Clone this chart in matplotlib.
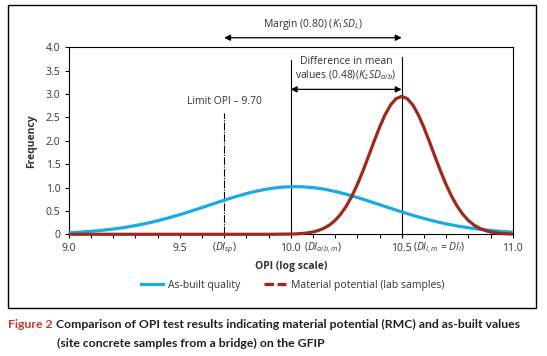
import matplotlib
matplotlib.use("Agg")
import matplotlib.pyplot as plt
from matplotlib.lines import Line2D
from matplotlib.patches import Rectangle

# ---- data ----
blue_x = [9.00, 9.05, 9.10, 9.15, 9.20, 9.25, 9.30, 9.35, 9.40, 9.45, 9.50,
          9.55, 9.60, 9.65, 9.70, 9.75, 9.80, 9.85, 9.90, 9.95, 10.00,
          10.05, 10.10, 10.15, 10.20, 10.25, 10.30, 10.35, 10.40, 10.45, 10.50,
          10.55, 10.60, 10.65, 10.70, 10.75, 10.80, 10.85, 10.90, 10.95, 11.00]
blue_y = [0.033, 0.046, 0.063, 0.085, 0.112, 0.145, 0.186, 0.233, 0.288, 0.351, 0.419,
          0.494, 0.571, 0.650, 0.728, 0.803, 0.870, 0.928, 0.973, 1.004, 1.019,
          1.017, 0.999, 0.965, 0.917, 0.857, 0.788, 0.713, 0.634, 0.556, 0.478,
          0.405, 0.338, 0.277, 0.223, 0.177, 0.140, 0.108, 0.082, 0.061, 0.045]

red_x = [9.00, 9.50, 9.90, 10.000, 10.025, 10.050, 10.075, 10.100, 10.125, 10.150,
         10.175, 10.200, 10.225, 10.250, 10.275, 10.300, 10.325, 10.350, 10.375,
         10.400, 10.425, 10.450, 10.475, 10.500, 10.525, 10.550, 10.575, 10.600,
         10.625, 10.650, 10.675, 10.700, 10.725, 10.750, 10.775, 10.800, 10.825,
         10.850, 10.875, 10.900, 10.925, 10.950, 10.975, 11.000]
red_y = [0.0, 0.0, 0.0, 0.005, 0.009, 0.017, 0.029, 0.050, 0.082, 0.130,
         0.199, 0.297, 0.429, 0.599, 0.811, 1.063, 1.351, 1.662, 1.980,
         2.286, 2.556, 2.768, 2.903, 2.950, 2.903, 2.768, 2.556, 2.286,
         1.980, 1.662, 1.351, 1.063, 0.811, 0.599, 0.429, 0.297, 0.199,
         0.130, 0.082, 0.050, 0.029, 0.017, 0.009, 0.005]

series_names = ["As-built quality", "Material potential (lab samples)"]
y_ticks = [0, 0.5, 1.0, 1.5, 2.0, 2.5, 3.0, 3.5, 4.0]
y_tick_labels = ["0", "0.5", "1.0", "1.5", "2.0", "2.5", "3.0", "3.5", "4.0"]
x_major = [9.0, 9.5, 10.0, 10.5, 11.0]
x_major_labels = ["9.0", "9.5", "10.0", "10.5", "11.0"]
x_minor = [9.1, 9.2, 9.3, 9.4, 9.6, 9.7, 9.8, 9.9, 10.1, 10.2, 10.3, 10.4,
           10.6, 10.7, 10.8, 10.9]
limit_opi = 9.70
mean_asbuilt = 10.0
mean_lab = 10.5

BLUE = "#1aaae6"
RED = "#9c2a1c"
TXT = "#333333"
CAP_RED = "#c0392b"
FS = 7.5

plt.rcParams["font.family"] = ["Open Sans", "DejaVu Sans"]
plt.rcParams["mathtext.fontset"] = "custom"
plt.rcParams["mathtext.rm"] = "Open Sans"
plt.rcParams["mathtext.it"] = "Open Sans:italic"
plt.rcParams["mathtext.bf"] = "Open Sans:bold"

fig = plt.figure(figsize=(5.47, 3.56), dpi=100)
ax = fig.add_axes([0.1256, 0.3419, 0.8117, 0.5252])

ax.plot(blue_x, blue_y, color=BLUE, lw=2.3, solid_capstyle="butt", zorder=3, clip_on=False)
ax.plot(red_x, red_y, color=RED, lw=2.3, solid_capstyle="butt", zorder=4, clip_on=False)

ax.set_xlim(9.0, 11.0)
ax.set_ylim(0, 4.0)
ax.set_xticks(x_major)
ax.set_xticklabels(x_major_labels)
ax.set_xticks(x_minor, minor=True)
ax.set_yticks(y_ticks)
ax.set_yticklabels(y_tick_labels)
ax.tick_params(axis="both", which="both", direction="out", length=3, width=0.8,
               colors="black", labelcolor=TXT, labelsize=FS, pad=3)
for s in ax.spines.values():
    s.set_linewidth(0.8)

# vertical reference lines
ax.plot([limit_opi, limit_opi], [0, 2.59], color="black", lw=0.8,
        dashes=(7, 1.2, 1, 1.2), zorder=2)
ax.plot([mean_asbuilt, mean_asbuilt], [0, 3.73], color="black", lw=0.8, zorder=2)
ax.plot([mean_lab, mean_lab], [0, 3.80], color="black", lw=0.8, zorder=2)

# arrows
ap = dict(arrowstyle="<|-|>", color="black", lw=0.9, mutation_scale=9,
          shrinkA=0, shrinkB=0)
ax.annotate("", xy=(mean_lab, 3.10), xytext=(mean_asbuilt, 3.10), arrowprops=ap)
ax.annotate("", xy=(mean_lab, 4.205), xytext=(limit_opi, 4.205), arrowprops=ap,
            annotation_clip=False)

ax.text(10.10, 4.48, r"Margin (0.80) ($K_1SD_L$)", ha="center", va="center",
        fontsize=FS, color=TXT, clip_on=False)
ax.text(10.25, 3.69, "Difference in mean", ha="center", va="center",
        fontsize=FS, color=TXT)
ax.text(10.25, 3.40, r"values (0.48)($K_2SD_{a/b}$)", ha="center", va="center",
        fontsize=FS, color=TXT)
ax.text(limit_opi, 2.84, "Limit OPI – 9.70", ha="center", va="center",
        fontsize=FS, color=TXT)

ax.set_xlabel("OPI (log scale)", fontsize=FS, fontweight="bold", color=TXT, labelpad=5)
ax.set_ylabel("Frequency", fontsize=FS, fontweight="bold", color=TXT, labelpad=6)

# extra x tick annotations, placed right after the measured tick labels
fig.canvas.draw()
r = fig.canvas.get_renderer()
labels = {lbl.get_text(): lbl for lbl in ax.get_xticklabels()}
xt = ax.get_xaxis_transform()
ax.text(limit_opi, -0.075, r"$(DI_{sp})$", transform=xt, ha="center", va="center",
        fontsize=FS, color=TXT)
inv = fig.transFigure.inverted()
bb10 = labels["10.0"].get_window_extent(r)
bb105 = labels["10.5"].get_window_extent(r)
ycen10 = (bb10.y0 + bb10.y1) / 2
fig.text((bb10.x1 + 3) / 547, ycen10 / 356, r"$(DI_{a/b,m})$", ha="left", va="center",
         fontsize=FS, color=TXT)
fig.text((bb105.x1 + 0.5) / 547, ycen10 / 356, r"$(DI_{l,m}$ = $DI_l)$", ha="left",
         va="center", fontsize=FS, color=TXT)

handles = [Line2D([], [], color=BLUE, lw=2.3),
           Line2D([], [], color=RED, lw=2.3, linestyle=(0, (3, 1.1)))]
fig.legend(handles, series_names, loc="center", bbox_to_anchor=(0.535, 0.1994),
           ncol=2, frameon=False, fontsize=FS, handlelength=2.1,
           handletextpad=0.45, columnspacing=2.3, labelcolor=TXT)

# outer frame
fig.patches.append(Rectangle((0.0152, 0.1357), 0.9647, 0.8503, transform=fig.transFigure,
                             fill=False, edgecolor="black", lw=1.0))

# caption
CFS = 8.8
cfam = ["Lato", "DejaVu Sans"]
t1 = fig.text(8 / 547, 1 - 324 / 356, "Figure 2", color=CAP_RED, fontsize=CFS,
              fontweight="bold", family=cfam, va="center", ha="left")
bb = t1.get_window_extent(r)
fig.text((bb.x1 + 3) / 547, 1 - 324 / 356,
         "Comparison of OPI test results indicating material potential (RMC) and as-built values",
         color="#231f20", fontsize=CFS, fontweight="bold", family=cfam,
         va="center", ha="left")
fig.text(57 / 547, 1 - 343 / 356, "(site concrete samples from a bridge) on the GFIP",
         color="#231f20", fontsize=CFS, fontweight="bold", family=cfam,
         va="center", ha="left")

fig.savefig("out.png", dpi=100)
